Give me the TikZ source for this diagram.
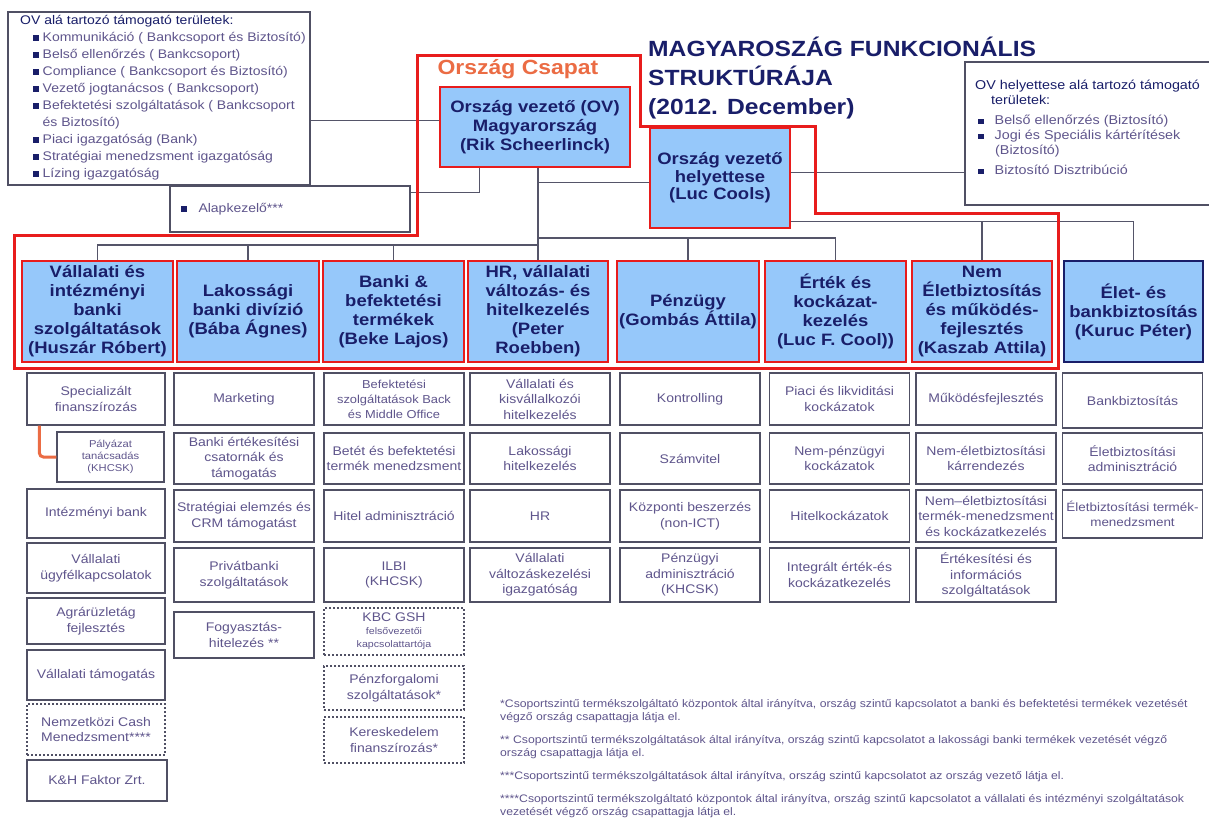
\documentclass[tikz,border=0pt]{standalone}
\usepackage{fontspec}
\setmainfont{Liberation Sans}[FakeStretch=1.12]
\usepackage{tikz}
\usetikzlibrary{calc}
\definecolor{navy}{RGB}{25,30,105}
\definecolor{subtxt}{RGB}{95,85,140}
\definecolor{divblue}{RGB}{150,200,250}
\definecolor{ctred}{RGB}{232,28,28}
\definecolor{ctorange}{RGB}{235,108,68}
\definecolor{wiregray}{RGB}{85,85,105}
\definecolor{subline}{RGB}{80,80,100}
\newcommand{\sqbul}{\textcolor{navy}{\rule[0.5pt]{5.5pt}{5.5pt}}}
\newcommand{\divfont}{\fontsize{16.5}{19}\selectfont\bfseries}
\newcommand{\subfont}{\fontsize{12.5}{15.5}\selectfont}
\newcommand{\listfont}{\fontsize{12.5}{17}\selectfont}

\begin{document}
\begin{tikzpicture}[x=1pt,y=-1pt,
  wire/.style={draw=wiregray,line width=1.1pt},
  info/.style={draw=subline,line width=1.3pt,fill=white,inner sep=0pt},
  div/.style={draw=ctred,line width=2.6pt,fill=divblue,minimum height=101pt,inner sep=0pt,align=center,font=\divfont,text=navy},
  sub/.style={draw=subline,line width=1.2pt,fill=white,minimum width=140pt,inner sep=1pt,align=center,font=\subfont,text=subtxt},
  subdash/.style={sub,dash pattern=on 2pt off 2pt}]
  \useasboundingbox (0,0) rectangle (1209,825);
  \fill[white] (0,0) rectangle (1209,825);

  \node[info,minimum width=302pt,minimum height=173pt] (ovlist) at (159,98.5) {};
  \node[anchor=north west,align=left,font=\listfont,text=subtxt,inner sep=0pt] (ovlisttxt) at (20,15) {%
    {\color{navy}OV alá tartozó támogató területek:}\\
    \hspace*{13pt}\sqbul\hspace{4pt}Kommunikáció ( Bankcsoport és Biztosító)\\
    \hspace*{13pt}\sqbul\hspace{4pt}Belső ellenőrzés ( Bankcsoport)\\
    \hspace*{13pt}\sqbul\hspace{4pt}Compliance ( Bankcsoport és Biztosító)\\
    \hspace*{13pt}\sqbul\hspace{4pt}Vezető jogtanácsos ( Bankcsoport)\\
    \hspace*{13pt}\sqbul\hspace{4pt}Befektetési szolgáltatások ( Bankcsoport\\
    \hspace*{22.5pt}és Biztosító)\\
    \hspace*{13pt}\sqbul\hspace{4pt}Piaci igazgatóság (Bank)\\
    \hspace*{13pt}\sqbul\hspace{4pt}Stratégiai menedzsment igazgatóság\\
    \hspace*{13pt}\sqbul\hspace{4pt}Lízing igazgatóság};
  \node[info,minimum width=240pt,minimum height=46pt,text width=218pt,align=left,font=\listfont,text=subtxt] (alap) at (290,209) {\sqbul\hspace{12pt}Alapkezelő***};

  \node[info,minimum width=250pt,minimum height=143pt] (helylist) at (1090,133.5) {};
  \node[anchor=north west,align=left,font=\fontsize{12.8}{15}\selectfont,text=subtxt,inner sep=0pt] (helylisttxt) at (975,80) {%
    {\color{navy}OV helyettese alá tartozó támogató}\\
    \hspace*{16pt}{\color{navy}területek:}\\[5pt]
    \hspace*{3pt}\sqbul\hspace{11pt}Belső ellenőrzés (Biztosító)\\
    \hspace*{3pt}\sqbul\hspace{11pt}Jogi és Speciális kártérítések\\
    \hspace*{20pt}(Biztosító)\\[5pt]
    \hspace*{3pt}\sqbul\hspace{11pt}Biztosító Disztribúció};

  \node[anchor=north west,align=left,font=\fontsize{22}{29}\selectfont\bfseries,text=navy,inner sep=0pt] (title) at (648,37) {MAGYAROSZÁG FUNKCIONÁLIS\\STRUKTÚRÁJA\\(2012. December)};
  \node[font=\fontsize{20.5}{24}\selectfont\bfseries,text=ctorange] (csapat) at (518,69) {Ország Csapat};

  \node[div,minimum width=190pt,minimum height=80pt] (ov) at (535,127) {Ország vezető (OV)\\Magyarország\\(Rik Scheerlinck)};
  \node[div,minimum width=140pt,minimum height=100pt,font=\fontsize{16.5}{17.5}\selectfont\bfseries] (luc) at (720,178) {Ország vezető\\helyettese\\(Luc Cools)};

  \node[div,minimum width=151pt] (vib) at (97.5,311.5) {Vállalati és\\intézményi\\banki\\szolgáltatások\\(Huszár Róbert)};
  \node[div,minimum width=142pt] (lak) at (248,311.5) {Lakossági\\banki divízió\\(Bába Ágnes)};
  \node[div,minimum width=141pt] (bef) at (393.5,311.5) {Banki \&\\befektetési\\termékek\\(Beke Lajos)};
  \node[div,minimum width=140pt] (hr) at (538,311.5) {HR, vállalati\\változás- és\\hitelkezelés\\(Peter\\Roebben)};
  \node[div,minimum width=142pt] (penz) at (688,311.5) {Pénzügy\\(Gombás Áttila)};
  \node[div,minimum width=141pt] (kock) at (835.5,311.5) {Érték és\\kockázat-\\kezelés\\(Luc F. Cool))};
  \node[div,minimum width=140pt] (nemel) at (982,311.5) {Nem\\Életbiztosítás\\és működés-\\fejlesztés\\(Kaszab Attila)};
  \node[div,draw=navy,minimum width=139pt] (elet) at (1133.5,311.5) {Élet- és\\bankbiztosítás\\(Kuruc Péter)};

  \node[sub,minimum width=138pt,minimum height=52pt] (vib1) at (96,399) {Specializált\\finanszírozás};
  \node[sub,minimum width=107pt,minimum height=50pt,font=\fontsize{10}{12}\selectfont] (vib2) at (110.5,457) {Pályázat\\tanácsadás\\(KHCSK)};
  \node[sub,minimum width=138pt,minimum height=49pt] (vib3) at (96,513.5) {Intézményi bank};
  \node[sub,minimum width=138pt,minimum height=50pt] (vib4) at (96,568) {Vállalati\\ügyfélkapcsolatok};
  \node[sub,minimum width=138pt,minimum height=46pt] (vib5) at (96,621) {Agrárüzletág\\fejlesztés};
  \node[sub,minimum width=138pt,minimum height=50pt] (vib6) at (96,675) {Vállalati támogatás};
  \node[subdash,minimum width=138pt,minimum height=51pt] (vib7) at (96,729.5) {Nemzetközi Cash\\Menedzsment****};
  \node[sub,minimum width=140pt,minimum height=41pt] (vib8) at (97,780.5) {K\&H Faktor Zrt.};

  \node[sub,minimum height=52pt] (lak1) at (244,399) {Marketing};
  \node[sub,minimum height=51pt] (lak2) at (244,458.5) {Banki értékesítési\\csatornák és\\támogatás};
  \node[sub,minimum height=52pt] (lak3) at (244,516) {Stratégiai elemzés és\\CRM támogatást};
  \node[sub,minimum height=54pt] (lak4) at (244,575) {Privátbanki\\szolgáltatások};
  \node[sub,minimum height=46pt] (lak5) at (244,635) {Fogyasztás-\\hitelezés **};

  \node[sub,minimum height=52pt,font=\fontsize{11.5}{15}\selectfont] (bef1) at (394,399) {Befektetési\\szolgáltatások Back\\és Middle Office};
  \node[sub,minimum height=51pt] (bef2) at (394,458.5) {Betét és befektetési\\termék menedzsment};
  \node[sub,minimum height=52pt] (bef3) at (394,516) {Hitel adminisztráció};
  \node[sub,minimum height=54pt] (bef4) at (394,575) {ILBI\\(KHCSK)};
  \node[subdash,minimum height=47pt,font=\fontsize{12.5}{13}\selectfont] (bef5) at (394,631.5) {KBC GSH\\{\fontsize{9.5}{11}\selectfont felsővezetői}\\{\fontsize{9.5}{11}\selectfont kapcsolattartója}};
  \node[subdash,minimum height=44pt] (bef6) at (394,688) {Pénzforgalomi\\szolgáltatások*};
  \node[subdash,minimum height=46pt] (bef7) at (394,740) {Kereskedelem\\finanszírozás*};

  \node[sub,minimum height=52pt] (hr1) at (540,399) {Vállalati és\\kisvállalkozói\\hitelkezelés};
  \node[sub,minimum height=51pt] (hr2) at (540,458.5) {Lakossági\\hitelkezelés};
  \node[sub,minimum height=52pt] (hr3) at (540,516) {HR};
  \node[sub,minimum height=54pt] (hr4) at (540,575) {Vállalati\\változáskezelési\\igazgatóság};

  \node[sub,minimum height=52pt] (penz1) at (690,399) {Kontrolling};
  \node[sub,minimum height=51pt] (penz2) at (690,458.5) {Számvitel};
  \node[sub,minimum height=52pt] (penz3) at (690,516) {Központi beszerzés\\(non-ICT)};
  \node[sub,minimum height=54pt] (penz4) at (690,575) {Pénzügyi\\adminisztráció\\(KHCSK)};

  \node[sub,minimum height=52pt] (kock1) at (839.5,399) {Piaci és likviditási\\kockázatok};
  \node[sub,minimum height=51pt] (kock2) at (839.5,458.5) {Nem-pénzügyi\\kockázatok};
  \node[sub,minimum height=52pt] (kock3) at (839.5,516) {Hitelkockázatok};
  \node[sub,minimum height=54pt] (kock4) at (839.5,575) {Integrált érték-és\\kockázatkezelés};

  \node[sub,minimum height=52pt] (nemel1) at (986,399) {Működésfejlesztés};
  \node[sub,minimum height=51pt] (nemel2) at (986,458.5) {Nem-életbiztosítási\\kárrendezés};
  \node[sub,minimum height=52pt] (nemel3) at (986,516) {Nem–életbiztosítási\\termék-menedzsment\\és kockázatkezelés};
  \node[sub,minimum height=54pt] (nemel4) at (986,575) {Értékesítési és\\információs\\szolgáltatások};

  \node[sub,minimum height=55pt] (elet1) at (1132.5,400.5) {Bankbiztosítás};
  \node[sub,minimum height=51pt] (elet2) at (1132.5,458.5) {Életbiztosítási\\adminisztráció};
  \node[sub,minimum height=48pt,font=\fontsize{12}{15.5}\selectfont] (elet3) at (1132.5,514) {Életbiztosítási termék-\\menedzsment};

  \node[anchor=north west,align=left,font=\fontsize{10.9}{13}\selectfont,text=subtxt,inner sep=0pt] (notes) at (500,699) {%
    *Csoportszintű termékszolgáltató központok által irányítva, ország szintű kapcsolatot a banki és befektetési termékek vezetését\\
    végző ország csapattagja látja el.\\[10pt]
    ** Csoportszintű termékszolgáltatások által irányítva, ország szintű kapcsolatot a lakossági banki termékek vezetését végző\\
    ország csapattagja látja el.\\[10pt]
    ***Csoportszintű termékszolgáltatások által irányítva, ország szintű kapcsolatot az ország vezető látja el.\\[10pt]
    ****Csoportszintű termékszolgáltató központok által irányítva, ország szintű kapcsolatot a vállalati és intézményi szolgáltatások\\
    vezetését végző ország csapattagja látja el.};

  \draw[wire] ($(ov.north west)!0.42!(ov.south west)$) coordinate (ovl) -- (ovl -| ovlist.east);
  \draw[wire] ($(ov.south west)!0.21!(ov.south east)$) |- ($(alap.north east)!0.15!(alap.south east)$);
  \draw[wire] (ov.south -| hr.north) -- (hr.north);
  \draw[wire] ($(luc.north west)!0.54!(luc.south west)$) coordinate (lucl) -- (lucl -| hr.north);
  \coordinate (busl) at (538,245);
  \coordinate (busr) at (538,238);
  \draw[wire] (vib.north) |- (busl);
  \draw[wire] (lak.north) -- (lak.north |- busl);
  \draw[wire] (bef.north) -- (bef.north |- busl);
  \draw[wire] (busr) -| (kock.north);
  \draw[wire] (penz.north) -- (penz.north |- busr);
  \coordinate (lucbus) at ($(luc.north east)!0.92!(luc.south east)$);
  \draw[wire] (lucbus) -| (elet.north);
  \draw[wire] (nemel.north) -- (nemel.north |- lucbus);
  \draw[wire] ($(luc.north east)!0.45!(luc.south east)$) coordinate (lucr) -- (lucr -| helylist.west);
  \draw[ctorange,line width=3pt,rounded corners=4pt] ([xshift=13pt]vib1.south west) |- (vib2.west);

  \draw[ctred,line width=3pt] (417,55) -- (640,55) -- (640,126) -- (815,126) -- (815,213) -- (1058,213)
    -- (1058,368) -- (14,368) -- (14,235) -- (417,235) -- cycle;
\end{tikzpicture}
\end{document}
